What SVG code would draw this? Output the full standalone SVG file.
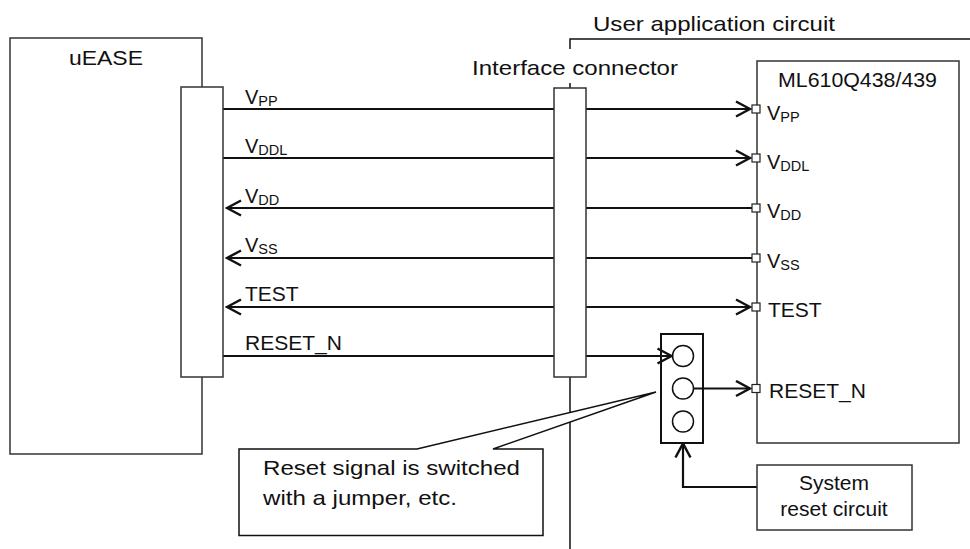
<svg xmlns="http://www.w3.org/2000/svg" width="970" height="549" viewBox="0 0 970 549">
<defs>
<style>
text{font-family:"Liberation Sans",Arial,sans-serif;fill:#111;}
.t{font-size:21px;}
.v{font-size:20px;}
.s{font-size:14.5px;}
.box{fill:#fff;stroke:#333;stroke-width:1.5;}
.jbox{fill:#fff;stroke:#111;stroke-width:2;}
.pin{fill:#fff;stroke:#222;stroke-width:1.2;}
.w{fill:none;stroke:#111;stroke-width:2.2;}
.thin{fill:none;stroke:#111;stroke-width:1.5;}
</style>
<marker id="ah" viewBox="-16 -9 18 18" refX="0" refY="0" markerWidth="18" markerHeight="18" markerUnits="userSpaceOnUse" orient="auto-start-reverse">
<path d="M-14,-7.5 L0,0 L-14,7.5" fill="none" stroke="#111" stroke-width="2.5"/>
</marker>
</defs>
<rect width="970" height="549" fill="#fff"/>

<g id="boundary">
<path class="thin" d="M570,49 V39 H970 M570,83 V88 M570,377 V549"/>
<text class="t" x="593" y="31" textLength="242" lengthAdjust="spacingAndGlyphs">User application circuit</text>
</g>

<g id="uease">
<rect class="box" x="10" y="38" width="192" height="416"/>
<text class="t" x="69" y="65" textLength="74" lengthAdjust="spacingAndGlyphs">uEASE</text>
</g>

<g id="jumper">
<rect class="jbox" x="661" y="334" width="42" height="109"/>
<circle class="thin" cx="683" cy="356" r="10.5" fill="#fff"/>
<circle class="thin" cx="683" cy="388.5" r="10.5" fill="#fff"/>
<circle class="thin" cx="683" cy="421.5" r="10.5" fill="#fff"/>
</g>

<g id="connectors">
<line class="w" x1="223" y1="109" x2="750" y2="109" marker-end="url(#ah)"/>
<line class="w" x1="223" y1="158" x2="750" y2="158" marker-end="url(#ah)"/>
<line class="w" x1="752" y1="208" x2="227" y2="208" marker-end="url(#ah)"/>
<line class="w" x1="752" y1="258" x2="227" y2="258" marker-end="url(#ah)"/>
<line class="w" x1="227" y1="307" x2="750" y2="307" marker-start="url(#ah)" marker-end="url(#ah)"/>
<line class="w" x1="223" y1="356" x2="671.5" y2="356" marker-end="url(#ah)"/>
<line class="w" x1="693.5" y1="388.5" x2="750" y2="388.5" marker-end="url(#ah)"/>
<path class="w" d="M757,487 H683 V443.5" marker-end="url(#ah)"/>
</g>

<g id="uease-connector">
<rect class="box" x="181" y="87" width="42" height="290"/>
</g>

<g id="interface-connector">
<rect class="box" x="554" y="88" width="32" height="289"/>
<text class="t" x="472" y="75" textLength="206" lengthAdjust="spacingAndGlyphs">Interface connector</text>
</g>

<g id="signal-labels">
<text class="v" x="245" y="104">V<tspan class="s" dy="2">PP</tspan></text>
<text class="v" x="245" y="153">V<tspan class="s" dy="2">DDL</tspan></text>
<text class="v" x="245" y="203">V<tspan class="s" dy="2">DD</tspan></text>
<text class="v" x="245" y="252">V<tspan class="s" dy="2">SS</tspan></text>
<text class="t" x="245" y="301">TEST</text>
<text class="t" x="245" y="350">RESET_N</text>
</g>

<g id="mcu">
<rect class="box" x="757" y="61" width="202" height="382"/>
<text class="t" x="778" y="87" textLength="159" lengthAdjust="spacingAndGlyphs">ML610Q438/439</text>
<rect class="pin" x="752" y="105" width="8" height="8"/>
<rect class="pin" x="752" y="154" width="8" height="8"/>
<rect class="pin" x="752" y="204" width="8" height="8"/>
<rect class="pin" x="752" y="254" width="8" height="8"/>
<rect class="pin" x="752" y="303" width="8" height="8"/>
<rect class="pin" x="752" y="384.5" width="8" height="8"/>
<text class="v" x="767" y="120">V<tspan class="s" dy="2">PP</tspan></text>
<text class="v" x="767" y="169">V<tspan class="s" dy="2">DDL</tspan></text>
<text class="v" x="767" y="218">V<tspan class="s" dy="2">DD</tspan></text>
<text class="v" x="767" y="268">V<tspan class="s" dy="2">SS</tspan></text>
<text class="t" x="768" y="317">TEST</text>
<text class="t" x="769" y="398">RESET_N</text>
</g>

<g id="system-reset">
<rect class="box" x="757" y="465" width="155" height="65"/>
<text class="t" x="834" y="490" text-anchor="middle">System</text>
<text class="t" x="834" y="516" text-anchor="middle">reset circuit</text>
</g>

<g id="callout">
<path d="M239,449 H417 L656,392 L493,449 H543 V535.5 H239 Z" fill="#fff" stroke="#111" stroke-width="1.5" stroke-linejoin="miter"/>
<text class="t" x="263" y="475" textLength="257" lengthAdjust="spacingAndGlyphs">Reset signal is switched</text>
<text class="t" x="263" y="505" textLength="194" lengthAdjust="spacingAndGlyphs">with a jumper, etc.</text>
</g>
</svg>
